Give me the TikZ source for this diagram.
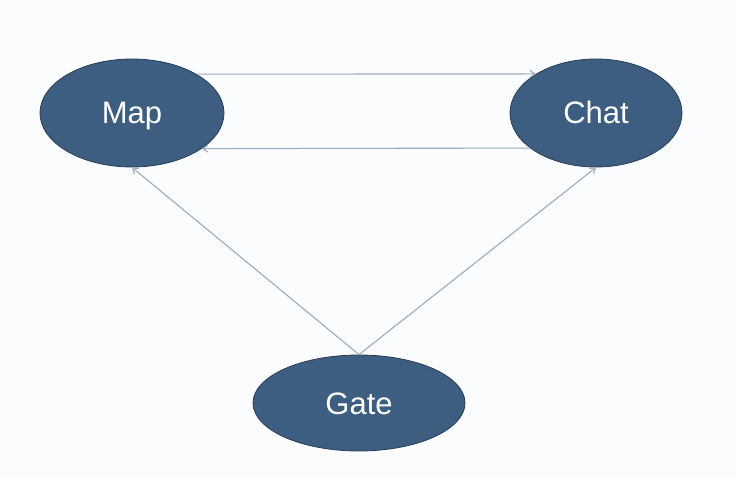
\documentclass[tikz,border=0pt]{standalone}
\usepackage{fontspec}
\setmainfont{Liberation Sans}
\usetikzlibrary{shapes.geometric,arrows.meta}
\definecolor{nodefill}{RGB}{61,94,128}
\definecolor{nodeedge}{RGB}{40,62,88}
\definecolor{linkcol}{RGB}{155,172,190}
\definecolor{bgcol}{RGB}{251,252,253}
\tikzset{
  blob/.style={ellipse, draw=nodeedge, line width=0.8pt, fill=nodefill, inner sep=0pt,
    text=white, font=\fontsize{31}{31}\selectfont, text height=22pt, text depth=0pt},
  link/.style={draw=linkcol, line width=1.1pt, -{Straight Barb[length=5pt,width=7pt]}}
}
\begin{document}
\begin{tikzpicture}[x=1pt,y=-1pt]
\fill[bgcol] (0,0) rectangle (736,478);
\useasboundingbox (0,0) rectangle (736,478);
\node[blob, minimum width=184pt, minimum height=108pt] (map) at (132,113) {Map};
\node[blob, minimum width=172pt, minimum height=108pt] (chat) at (596,113) {Chat};
\node[blob, minimum width=212pt, minimum height=96pt] (gate) at (359,403) {Gate};
\draw[link] (map.31) -- (chat.147);
\draw[link] (chat.-152) -- (map.-27);
\draw[link] (gate.north) -- (map.south);
\draw[link] (gate.north) -- (chat.south);
\end{tikzpicture}
\end{document}
